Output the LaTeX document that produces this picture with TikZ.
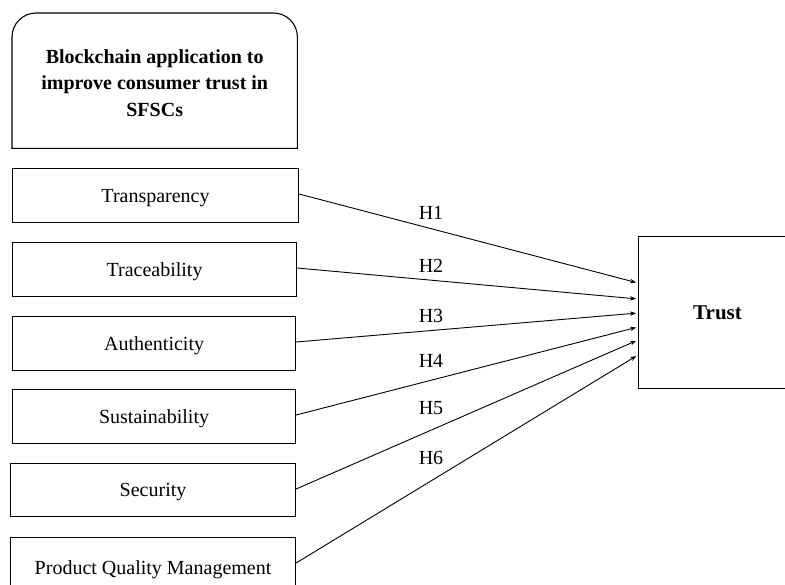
\documentclass[tikz,border=0pt]{standalone}
\usepackage{fontspec}
\setmainfont{Liberation Serif}
\usetikzlibrary{arrows.meta}
\begin{document}
\begin{tikzpicture}[x=1pt,y=-1pt,
  varbox/.style={draw, line width=1.1pt, rectangle, anchor=north west, inner sep=0pt, text height=14pt, text depth=0.5pt, font=\fontsize{20}{24}\selectfont},
  hyp/.style={font=\fontsize{20}{24}\selectfont},
  link/.style={line width=0.9pt, -{Stealth[length=6pt,width=4.5pt]}, shorten >=2pt}]
\useasboundingbox (0,0) rectangle (785,585);
% title box
\node[anchor=north west, minimum width=285pt, minimum height=135pt, inner sep=0pt, align=center,
  font=\bfseries\fontsize{20}{26.5}\selectfont] (title) at (12,15)
  {Blockchain application to\\improve consumer trust in\\SFSCs};
\draw[line width=1.1pt] ([yshift=2pt]title.south west) [rounded corners=24pt] -- ([yshift=2pt]title.north west) -- ([yshift=2pt]title.north east) [sharp corners] -- ([yshift=2pt]title.south east) -- cycle;
% variable boxes
\node[varbox, minimum width=286pt, minimum height=54pt] (b1) at (12,168) {Transparency};
\node[varbox, minimum width=284pt, minimum height=54pt] (b2) at (12,242) {Traceability};
\node[varbox, minimum width=283pt, minimum height=54pt] (b3) at (12,316) {Authenticity};
\node[varbox, minimum width=283pt, minimum height=54pt] (b4) at (12,389) {Sustainability};
\node[varbox, minimum width=285pt, minimum height=53pt] (b5) at (10,463) {Security};
\node[varbox, minimum width=285pt, minimum height=60pt] (b6) at (10,537) {Product Quality Management};
% trust box
\node[draw, line width=1.1pt, anchor=north west, minimum width=158pt, minimum height=152pt, inner sep=0pt,
  font=\bfseries\fontsize{21}{25}\selectfont] (trust) at (638,236) {Trust};
% targets
\coordinate (t1) at (638,283);
\coordinate (t2) at (638,299);
\coordinate (t3) at (638,313);
\coordinate (t4) at (638,327);
\coordinate (t5) at (638,340);
\coordinate (t6) at (638,355);
% connectors
\draw[link] (b1.east |- 0,194) -- (t1);
\draw[link] (b2.east |- 0,268) -- (t2);
\draw[link] (b3.east |- 0,342) -- (t3);
\draw[link] (b4.east |- 0,415) -- (t4);
\draw[link] (b5.east |- 0,489) -- (t5);
\draw[link] (b6.east |- 0,563) -- (t6);
% labels
\node[hyp] (h1) at (431,213) {H1};
\node[hyp] (h2) at (431,266) {H2};
\node[hyp] (h3) at (431,316) {H3};
\node[hyp] (h4) at (431,361) {H4};
\node[hyp] (h5) at (431,408) {H5};
\node[hyp] (h6) at (431,458) {H6};
\end{tikzpicture}
\end{document}
